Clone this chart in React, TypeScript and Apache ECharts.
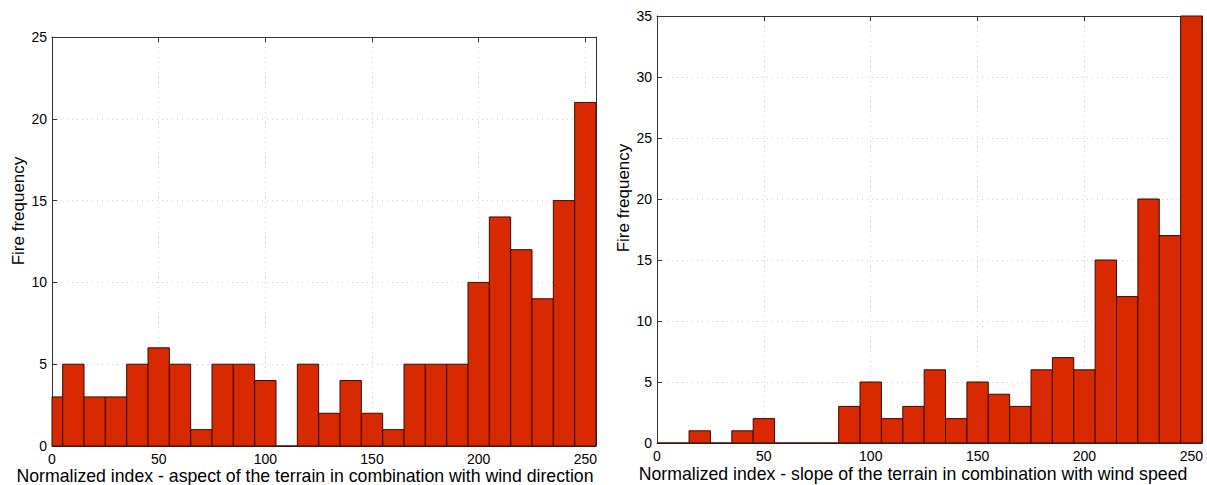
import React, { useEffect, useRef } from "react";
import * as echarts from "echarts";

// ---- data ----
const binCenters = [0, 10, 20, 30, 40, 50, 60, 70, 80, 90, 100, 110, 120, 130, 140, 150, 160, 170, 180, 190, 200, 210, 220, 230, 240, 250];
const aspectCounts = [3, 5, 3, 3, 5, 6, 5, 1, 5, 5, 4, 0, 5, 2, 4, 2, 1, 5, 5, 5, 10, 14, 12, 9, 15, 21];
const slopeCounts = [0, 0, 1, 0, 1, 2, 0, 0, 0, 3, 5, 2, 3, 6, 2, 5, 4, 3, 6, 7, 6, 15, 12, 20, 17, 35];
const xTicks = [0, 50, 100, 150, 200, 250];
const leftYTicks = [0, 5, 10, 15, 20, 25];
const rightYTicks = [0, 5, 10, 15, 20, 25, 30, 35];
const leftXLabel = "Normalized index - aspect of the terrain in combination with wind direction";
const rightXLabel = "Normalized index - slope of the terrain in combination with wind speed";
const yLabel = "Fire frequency";

const BIN_WIDTH = 10;
const X_MIN = 0;
const X_MAX = 255;

const FONT = "'Liberation Sans', Arial, Helvetica, sans-serif";
const BAR_FILL = "#d82900";
const BAR_STROKE = "#3a0c00";
const AXIS_COLOR = "#333333";
const GRID_COLOR = "#d0d0d0";

function histData(counts: number[]) {
  return binCenters.map((c, i) => [
    Math.max(c - BIN_WIDTH / 2, X_MIN),
    Math.min(c + BIN_WIDTH / 2, X_MAX),
    counts[i],
  ]);
}

export default function App() {
  const ref = useRef<HTMLDivElement>(null);

  useEffect(() => {
    if (!ref.current) return;
    const chart = echarts.init(ref.current, null, { renderer: "svg" });

    const grids = [
      { left: 52, top: 37, width: 544, height: 409 },
      { left: 657, top: 16, width: 545, height: 427 },
    ];
    const yMaxes = [leftYTicks[leftYTicks.length - 1], rightYTicks[rightYTicks.length - 1]];

    const xAxes: any[] = [];
    const yAxes: any[] = [];
    grids.forEach((_, gi) => {
      xAxes.push({
        type: "value",
        gridIndex: gi,
        position: "bottom",
        min: X_MIN,
        max: X_MAX,
        interval: xTicks[1] - xTicks[0],
        axisLine: { show: true, onZero: false, lineStyle: { color: AXIS_COLOR, width: 1 } },
        axisTick: { show: true, inside: true, length: 5, lineStyle: { color: AXIS_COLOR } },
        axisLabel: {
          show: true,
          margin: 6,
          color: "#000",
          fontSize: 14,
          fontFamily: FONT,
          formatter: (v: number) => (xTicks.includes(v) ? String(v) : ""),
        },
        splitLine: { show: true, lineStyle: { color: GRID_COLOR, type: [1, 4], width: 1 } },
      });
      xAxes.push({
        type: "value",
        gridIndex: gi,
        position: "top",
        min: X_MIN,
        max: X_MAX,
        interval: xTicks[1] - xTicks[0],
        axisLine: { show: true, onZero: false, lineStyle: { color: AXIS_COLOR, width: 1 } },
        axisTick: { show: true, inside: true, length: 5, lineStyle: { color: AXIS_COLOR } },
        axisLabel: { show: false },
        splitLine: { show: false },
      });
      yAxes.push({
        type: "value",
        gridIndex: gi,
        position: "left",
        min: 0,
        max: yMaxes[gi],
        interval: 5,
        axisLine: { show: true, onZero: false, lineStyle: { color: AXIS_COLOR, width: 1 } },
        axisTick: { show: true, inside: true, length: 5, lineStyle: { color: AXIS_COLOR } },
        axisLabel: { show: true, margin: 5, color: "#000", fontSize: 14, fontFamily: FONT },
        splitLine: { show: true, lineStyle: { color: GRID_COLOR, type: [1, 4], width: 1 } },
      });
      yAxes.push({
        type: "value",
        gridIndex: gi,
        position: "right",
        min: 0,
        max: yMaxes[gi],
        interval: 5,
        axisLine: { show: true, onZero: false, lineStyle: { color: AXIS_COLOR, width: 1 } },
        axisTick: { show: true, inside: true, length: 5, lineStyle: { color: AXIS_COLOR } },
        axisLabel: { show: false },
        splitLine: { show: false },
      });
    });

    const renderItem = (_params: any, api: any) => {
      const lo = api.value(0);
      const hi = api.value(1);
      const v = api.value(2);
      const p0 = api.coord([lo, 0]);
      const p1 = api.coord([hi, v]);
      return {
        type: "rect",
        shape: { x: p0[0], y: p1[1], width: p1[0] - p0[0], height: p0[1] - p1[1] },
        style: { fill: BAR_FILL, stroke: BAR_STROKE, lineWidth: 1 },
      };
    };

    const option: any = {
      animation: false,
      backgroundColor: "#ffffff",
      grid: grids.map((g) => ({ ...g, containLabel: false, outerBoundsMode: "none" })),
      xAxis: xAxes,
      yAxis: yAxes,
      series: [
        {
          type: "custom",
          xAxisIndex: 0,
          yAxisIndex: 0,
          renderItem,
          encode: { x: [0, 1], y: 2 },
          data: histData(aspectCounts),
          z: 1,
        },
        {
          type: "custom",
          xAxisIndex: 2,
          yAxisIndex: 2,
          renderItem,
          encode: { x: [0, 1], y: 2 },
          data: histData(slopeCounts),
          z: 1,
        },
      ],
      graphic: [
        {
          type: "text",
          x: 305,
          y: 476,
          style: { text: leftXLabel, fontSize: 17.7, fontFamily: FONT, fill: "#000", align: "center", verticalAlign: "middle" },
        },
        {
          type: "text",
          x: 913,
          y: 474,
          style: { text: rightXLabel, fontSize: 17.7, fontFamily: FONT, fill: "#000", align: "center", verticalAlign: "middle" },
        },
        {
          type: "text",
          x: 18,
          y: 211,
          rotation: Math.PI / 2,
          style: { text: yLabel, fontSize: 17, fontFamily: FONT, fill: "#000", align: "center", verticalAlign: "middle" },
        },
        {
          type: "text",
          x: 623,
          y: 198,
          rotation: Math.PI / 2,
          style: { text: yLabel, fontSize: 17, fontFamily: FONT, fill: "#000", align: "center", verticalAlign: "middle" },
        },
      ],
    };

    chart.setOption(option);
    return () => chart.dispose();
  }, []);

  return (
    <div
      ref={ref}
      style={{ position: "fixed", left: 0, top: 0, width: 1207, height: 485, background: "#fff" }}
    />
  );
}
